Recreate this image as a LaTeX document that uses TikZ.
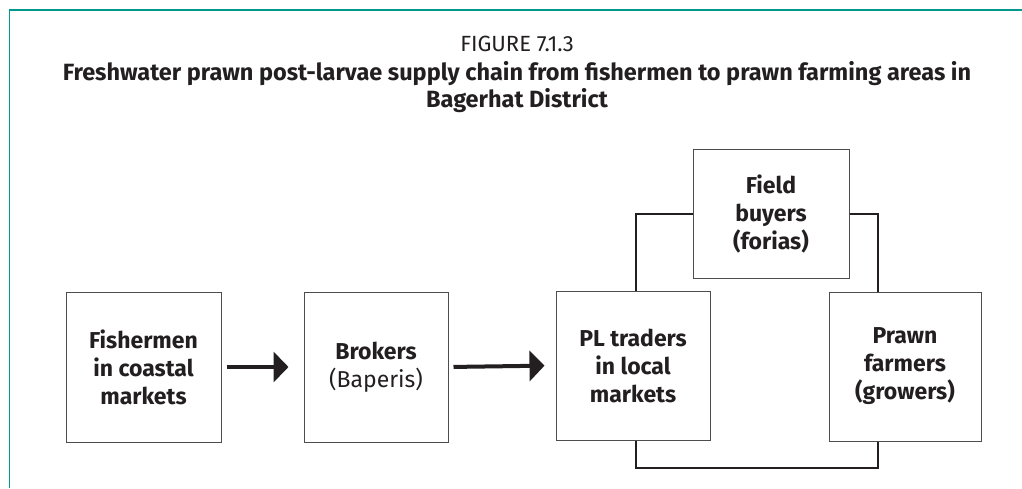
\documentclass[tikz,border=0pt]{standalone}
\usepackage{fontspec}
\setmainfont{Fira Sans}
\usetikzlibrary{arrows.meta,calc}
\definecolor{frame}{HTML}{00998C}
\definecolor{ink}{HTML}{231F20}
\definecolor{boxline}{HTML}{4D4D4D}
\begin{document}
\begin{tikzpicture}[x=1pt,y=-1pt,
  box/.style={draw=boxline,line width=1pt,rectangle,inner sep=0pt,align=center,
    text=ink,font=\fontsize{23}{28}\selectfont\bfseries},
  conn/.style={draw=ink,line width=2pt},
  bigarrow/.style={draw=ink,line width=4pt,-{Triangle[length=15pt,width=30pt]}}]
\useasboundingbox (0,0) rectangle (1022,488);
\draw[frame,line width=1.6pt] (9.5,488) -- (9.5,10) -- (1022,10);
\node[text=ink,font=\fontsize{22}{26}\selectfont] (fig) at (517,43.5) {FIGURE 7.1.3};
\node[text=ink,align=center,font=\fontsize{23.5}{27}\selectfont\bfseries] (title) at (517,87.5)
  {Freshwater prawn post-larvae supply chain from fishermen to prawn farming areas in\\Bagerhat District};
\node[box,minimum width=155pt,minimum height=150pt] (fish) at (143.5,367) {Fishermen\\in coastal\\markets};
\node[box,minimum width=144pt,minimum height=150pt] (brok) at (376,367) {Brokers\\\mdseries(Baperis)};
\node[box,minimum width=154pt,minimum height=149pt] (pl) at (633,365.5) {PL traders\\in local\\markets};
\node[box,minimum width=152pt,minimum height=149pt] (pr) at (905,366.5) {Prawn\\farmers\\(growers)};
\node[box,minimum width=156pt,minimum height=129pt] (field) at (771,213.5) {Field\\buyers\\(forias)};
\draw[bigarrow,shorten <=5pt,shorten >=15pt] (fish.east) -- (brok.west);
\draw[bigarrow,shorten <=5pt,shorten >=11pt] (brok.east) -- (pl.west);
\draw[conn] (field.west) -| ([xshift=3pt]pl.north);
\draw[conn] (field.east) -| ([xshift=-27pt]pr.north);
\draw[conn] ([xshift=3pt]pl.south) -- ++(0,27) -| ([xshift=-27pt]pr.south);
\end{tikzpicture}
\end{document}
